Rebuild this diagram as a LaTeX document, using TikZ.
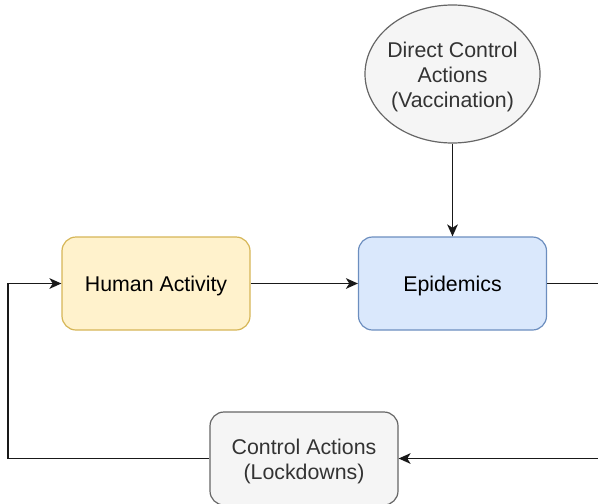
\documentclass[tikz,border=0pt]{standalone}
\usepackage{fontspec}
\setmainfont{Liberation Sans}
\usetikzlibrary{arrows.meta,shapes.geometric}
\definecolor{yfill}{HTML}{FFF2CC}
\definecolor{ydraw}{HTML}{D6B656}
\definecolor{bfill}{HTML}{DAE8FC}
\definecolor{bdraw}{HTML}{6C8EBF}
\definecolor{gfill}{HTML}{F5F5F5}
\definecolor{gdraw}{HTML}{666666}
\definecolor{gtext}{HTML}{333333}
\tikzset{
  box/.style={rectangle, rounded corners=10.5pt, line width=0.9pt, minimum width=141pt, minimum height=69.75pt, inner sep=0pt},
  ybox/.style={box, fill=yfill, draw=ydraw},
  bbox/.style={box, fill=bfill, draw=bdraw},
  gbox/.style={box, fill=gfill, draw=gdraw},
  gell/.style={ellipse, fill=gfill, draw=gdraw, line width=0.9pt, minimum width=131.25pt, minimum height=103.5pt, inner sep=0pt},
  txt/.style={inner sep=0pt, align=center, font=\fontsize{16}{18.75}\selectfont},
  gtxt/.style={txt, text=gtext},
  conn/.style={line width=1.1pt, black!90},
  arr/.style={conn, -{Stealth[length=9pt,width=8pt,inset=2.5pt]}}
}
\begin{document}
\begin{tikzpicture}[x=0.75pt,y=-0.75pt]
\useasboundingbox (0,0) rectangle (598,503);
\begin{scope}
\clip (0,0) rectangle (598,503);
\node[gell] (dca) at (452.5,74) {};
\node[gtxt] (dcat) at ([yshift=-2pt]dca.center) {Direct Control\\Actions\\(Vaccination)};
\node[ybox] (human) at (156,283.5) {};
\node[txt] (humant) at ([yshift=-1.5pt]human.center) {Human Activity};
\node[bbox] (epi) at (452.5,283.5) {};
\node[txt] (epit) at ([yshift=-1.5pt]epi.center) {Epidemics};
\node[gbox] (lock) at (304,458.5) {};
\node[gtxt] (lockt) at ([yshift=-2pt]lock.center) {Control Actions\\(Lockdowns)};
\coordinate (er) at (620,283.5);
\coordinate (br) at (620,458.5);
\coordinate (bl) at (8,458.5);
\draw[arr] (dca) -- (epi);
\draw[arr] (human) -- (epi);
\draw[conn] (epi) -- (er);
\draw[arr] (br) -- (lock);
\draw[arr] (lock) -- (bl) |- (human);
\end{scope}
\end{tikzpicture}
\end{document}
